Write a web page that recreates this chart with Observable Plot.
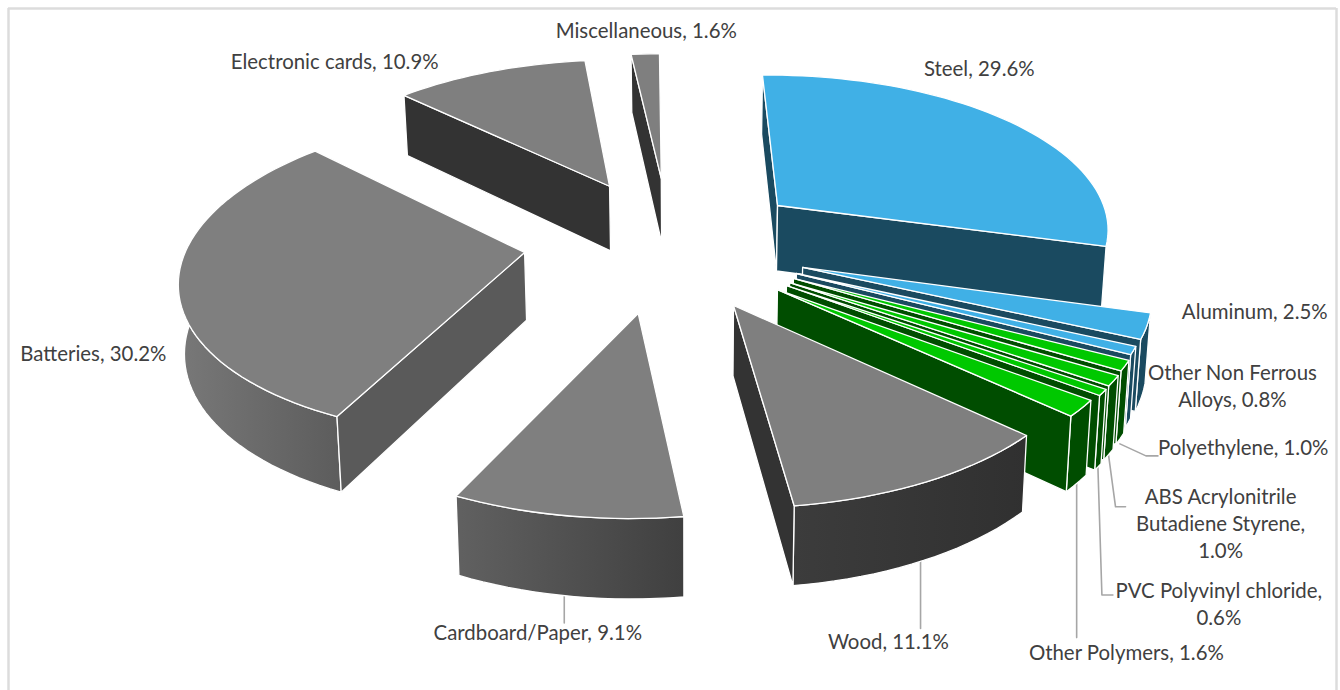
<!DOCTYPE html>
<html>
<head>
<meta charset="utf-8">
<style>html,body{margin:0;padding:0;background:#fff}svg{display:block}</style>
<script src="https://cdn.jsdelivr.net/npm/d3@7"></script>
<script src="https://cdn.jsdelivr.net/npm/@observablehq/plot@0.6"></script>
</head>
<body>
<div id="chart"></div>
<script>
// ---- data, clockwise from the top of the pie
const materials = ["Steel","Aluminum","Other Non Ferrous Alloys","Polyethylene","ABS Acrylonitrile Butadiene Styrene","PVC Polyvinyl chloride","Other Polymers","Wood","Cardboard/Paper","Batteries","Electronic cards","Miscellaneous"];
const shares = [29.6,2.5,0.8,1.0,1.0,0.6,1.6,11.1,9.1,30.2,10.9,1.6];
const labelLines = [["Steel, 29.6%"],["Aluminum, 2.5%"],["Other Non Ferrous","Alloys, 0.8%"],["Polyethylene, 1.0%"],["ABS Acrylonitrile","Butadiene Styrene,","1.0%"],["PVC Polyvinyl chloride,","0.6%"],["Other Polymers, 1.6%"],["Wood, 11.1%"],["Cardboard/Paper, 9.1%"],["Batteries, 30.2%"],["Electronic cards, 10.9%"],["Miscellaneous, 1.6%"]];

// ---- slice styling: family of each slice
const families = ["blue","blue","blue","green","green","green","green","grey","grey","grey","grey","grey"];
const topFill = {blue:"#40b0e6",green:"#00c800",grey:"#7f7f7f"};
const cutFill = {blue:"#1a4a60",green:"#004d00",grey:"#333333"};
const cutOverride = {Batteries:"#5a5a5a"};

// ---- explosion of each slice in the plane of the pie (radius = 1)
const explodeU = [0.274,0.334,0.314,0.304,0.292,0.282,0.255,0.126,-0.146,-0.493,-0.253,-0.09];
const explodeV = [0.208,-0.197,-0.2345,-0.265,-0.290,-0.3075,-0.332,-0.426,-0.472,-0.103,0.343,0.40];

// ---- label placement relative to the outer-arc midpoint of the slice
const labelDX = [-31,108,99,118,107,116,45,-38,-28,-85,-155,1];
const labelDY = [-53,-14,36,83,144,213,245,161,118,73,-9,-22];
// leader lines, relative to the bottom of the outer-arc midpoint
const leaders = {
  "Polyethylene":[[0,5],[26,17],[38,17]],
  "ABS Acrylonitrile Butadiene Styrene":[[0,0],[7,52],[17,52]],
  "PVC Polyvinyl chloride":[[0,0],[4,128],[15,128]],
  "Other Polymers":[[0,0],[0,154]],
  "Wood":[[-3,0],[-3,68]],
  "Cardboard/Paper":[[-3,0],[-3,27]]
};

// ---- view of the tilted pie
const view = {cx:689,cy:236,A:330,B:153,p:0.13,R:1.015,first:-1,depth:67,lean:0.012};
const rad = d => d*Math.PI/180;
function scaleAt(v){return 1/(1+view.p*v);}
function projTop(u,v){const s=scaleAt(v);return {x:view.cx+view.A*u*s,y:view.cy-view.B*v*s};}
function projBottom(u,v){const s=scaleAt(v),t=projTop(u,v);return {x:view.cx+(t.x-view.cx)*(1-view.lean),y:t.y+view.depth*Math.pow(s,0.85)};}
function polyArea(pts){let a=0;pts.forEach((p,i)=>{const q=pts[(i+1)%pts.length];a+=p.x*q.y-q.x*p.y;});return a/2;}

// ---- build faces from the shares
const total = d3.sum(shares);
let run = 0;
const slices = materials.map((name,i)=>{
  const a0 = view.first+run/total*360; run+=shares[i]; const a1 = view.first+run/total*360;
  const ou=explodeU[i], ov=explodeV[i];
  const n=Math.max(2,Math.ceil((a1-a0)/2));
  const arc=d3.range(n+1).map(k=>{const a=rad(a0+(a1-a0)*k/n);return [ou+view.R*Math.sin(a),ov+view.R*Math.cos(a)];});
  const fam=families[i];
  const am=rad((a0+a1)/2), mu=ou+view.R*Math.sin(am), mv=ov+view.R*Math.cos(am);
  return {name,i,fam,ou,ov,arc,mid:projTop(mu,mv),midB:projBottom(mu,mv)};
});
const faces=[];
slices.slice().sort((a,b)=>b.ov-a.ov).forEach(s=>{
  const cut=cutOverride[s.name]||cutFill[s.fam];
  const T=s.arc.map(([u,v])=>projTop(u,v)), B=s.arc.map(([u,v])=>projBottom(u,v));
  const apexT=projTop(s.ou,s.ov), apexB=projBottom(s.ou,s.ov);
  faces.push({pts:[...T,...B.slice().reverse()],fill:s.fam==="grey"?"url(#arcShade)":cut});
  const startW=[apexT,T[0],B[0],apexB], endW=[apexT,T[T.length-1],B[B.length-1],apexB];
  if(polyArea(startW)<0) faces.push({pts:startW,fill:cut});
  if(polyArea(endW)>0) faces.push({pts:endW,fill:cut});
  faces.push({pts:[apexT,...T],fill:topFill[s.fam]});
});

const labelRows = slices.flatMap(s=>{
  const lines=labelLines[s.i], h=27;
  return lines.map((t,k)=>({t,x:s.mid.x+labelDX[s.i],y:s.mid.y+labelDY[s.i]+(k-(lines.length-1)/2)*h}));
});
const leaderLines = slices.filter(s=>leaders[s.name]).map(s=>leaders[s.name].map(([dx,dy])=>({x:s.midB.x+dx,y:s.midB.y+dy})));

function shadeDefs(){
  const d=document.createElementNS("http://www.w3.org/2000/svg","defs");
  d.innerHTML=`<linearGradient id="arcShade" gradientUnits="userSpaceOnUse" x1="180" x2="1030" y1="0" y2="0">
    <stop offset="0" stop-color="#787878"/><stop offset="0.19" stop-color="#5c5c5c"/>
    <stop offset="0.33" stop-color="#606060"/><stop offset="0.59" stop-color="#404040"/>
    <stop offset="0.72" stop-color="#3c3c3c"/><stop offset="1" stop-color="#303030"/></linearGradient>`;
  return d;
}

const chart = Plot.plot({
  width:1340,height:690,margin:0,
  x:{domain:[0,1340],range:[0,1340],axis:null},
  y:{domain:[0,690],range:[0,690],axis:null},
  style:{background:"#fff",fontFamily:"Lato, sans-serif"},
  marks:[
    shadeDefs,
    Plot.ruleX([8,1336],{y1:8,y2:690,stroke:"#dcdcdc",strokeWidth:2.5}),
    Plot.ruleY([8],{x1:8,x2:1336,stroke:"#dcdcdc",strokeWidth:2.5}),
    ...leaderLines.map(l=>Plot.line(l,{x:"x",y:"y",stroke:"#a6a6a6",strokeWidth:1.6})),
    ...faces.map(f=>Plot.line(f.pts,{x:"x",y:"y",curve:"linear-closed",fill:f.fill,stroke:"white",strokeWidth:1.3,strokeLinejoin:"round"})),
    Plot.text(labelRows,{x:"x",y:"y",text:"t",fontSize:20.4,fill:"#404040",textAnchor:"middle"})
  ]
});
document.getElementById("chart").append(chart);
</script>
</body>
</html>
